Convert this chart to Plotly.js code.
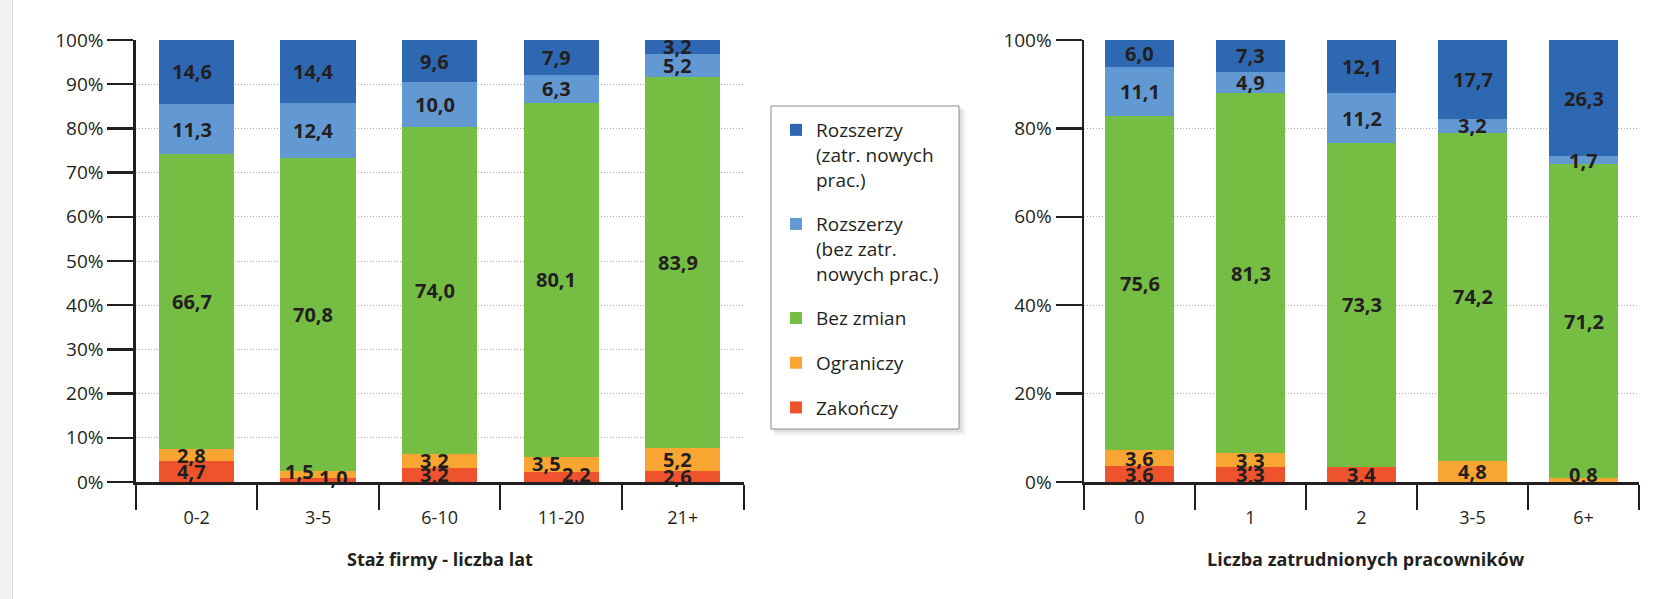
<!DOCTYPE html>
<html><head><meta charset="utf-8">
<script src="https://cdn.plot.ly/plotly-3.0.1.min.js"></script>
<style>html,body{margin:0;padding:0;background:#fff;}#chart{width:1663px;height:599px;}</style>
</head><body><div id="chart"></div>
<script>
// ---- data ----
const seriesNames = ['Zakończy', 'Ograniczy', 'Bez zmian', 'Rozszerzy<br>(bez zatr.<br>nowych prac.)', 'Rozszerzy<br>(zatr. nowych<br>prac.)'];
const seriesColors = ['#ee532d', '#f8a532', '#75bd43', '#6399d2', '#2f68b2'];

const catsLeft = ['0-2', '3-5', '6-10', '11-20', '21+'];
const leftZakonczy = [4.7, 1.0, 3.2, 2.2, 2.6];
const leftOgraniczy = [2.8, 1.5, 3.2, 3.5, 5.2];
const leftBezZmian = [66.7, 70.8, 74.0, 80.1, 83.9];
const leftRozszBez = [11.3, 12.4, 10.0, 6.3, 5.2];
const leftRozszZatr = [14.6, 14.4, 9.6, 7.9, 3.2];

const catsRight = ['0', '1', '2', '3-5', '6+'];
const rightZakonczy = [3.6, 3.3, 3.4, 0, 0];
const rightOgraniczy = [3.6, 3.3, 0, 4.8, 0.8];
const rightBezZmian = [75.6, 81.3, 73.3, 74.2, 71.2];
const rightRozszBez = [11.1, 4.9, 11.2, 3.2, 1.7];
const rightRozszZatr = [6.0, 7.3, 12.1, 17.7, 26.3];

const leftTitle = 'Staż firmy - liczba lat';
const rightTitle = 'Liczba zatrudnionych pracowników';

// ---- style ----
const W = 1663, H = 599, T = 40, B = 117;
const plotH = H - T - B;
const TXT = '#231f20';
const FONT = 'Open Sans, Liberation Sans, sans-serif';
const px = x => x / W;
const py = y => (H - B - y) / plotH;
// label nudges [xshift, yshift] keyed by chart / category / series index
const chartShift = {L: -5, R: 0};
const nudges = {
  L: {'3-5': {0: [20, 2], 1: [-14, 3]}, '11-20': {0: [20, 3], 1: [-10, 1]}},
  R: {'6+': {1: [0, 6]}}
};

const leftSeries = [leftZakonczy, leftOgraniczy, leftBezZmian, leftRozszBez, leftRozszZatr];
const rightSeries = [rightZakonczy, rightOgraniczy, rightBezZmian, rightRozszBez, rightRozszZatr];

const traces = [];
const annotations = [];
function addChart(cats, series, xa, ya, key, showLegend) {
  const cum = cats.map(() => 0);
  series.forEach((vals, si) => {
    traces.push({
      type: 'bar', x: cats, y: vals, xaxis: xa, yaxis: ya,
      name: seriesNames[si], legendgroup: 'g' + si, showlegend: showLegend,
      legendrank: 100 - si * 10,
      marker: {color: seriesColors[si], line: {width: 0}},
      hoverinfo: 'skip'
    });
    vals.forEach((v, ci) => {
      if (v > 0) {
        const n = (nudges[key][cats[ci]] || {})[si] || [0, 0];
        annotations.push({
          x: cats[ci], y: cum[ci] + v / 2, xref: xa, yref: ya,
          xanchor: 'center', yanchor: 'middle',
          text: v.toFixed(1).replace('.', ','), showarrow: false,
          xshift: n[0] + chartShift[key], yshift: n[1],
          font: {family: FONT, size: 20, color: TXT, weight: 700}
        });
      }
      cum[ci] += v;
    });
  });
}
addChart(catsLeft, leftSeries, 'x', 'y', 'L', true);
addChart(catsRight, rightSeries, 'x2', 'y2', 'R', false);

annotations.push({xref: 'paper', yref: 'paper', x: px(440), y: py(559), xanchor: 'center', yanchor: 'middle',
  text: leftTitle, showarrow: false, font: {family: FONT, size: 18, color: TXT, weight: 700}});
annotations.push({xref: 'paper', yref: 'paper', x: px(1366), y: py(559), xanchor: 'center', yanchor: 'middle',
  text: rightTitle, showarrow: false, font: {family: FONT, size: 18, color: TXT, weight: 700}});

const xBase = {
  type: 'category', showline: true, linecolor: TXT, linewidth: 2.5,
  ticks: 'outside', tickson: 'boundaries', ticklen: 25, tickwidth: 2, tickcolor: TXT,
  ticklabelstandoff: 18,
  showgrid: false, zeroline: false, range: [-0.5, 4.5], fixedrange: true,
  tickfont: {family: FONT, size: 18, color: TXT}
};
const yBase = {
  range: [0, 100], showline: true, linecolor: TXT, linewidth: 2.5,
  ticks: 'outside', ticklen: 26, tickwidth: 2.5, tickcolor: TXT, ticksuffix: '%',
  showgrid: true, gridcolor: '#aaaaaa', gridwidth: 1, griddash: '1px,2px', zeroline: false,
  tickfont: {family: FONT, size: 19, color: TXT}, fixedrange: true
};

const shapes = [
  {type: 'rect', xref: 'paper', yref: 'paper', x0: px(0), x1: px(12), y0: py(H + 5), y1: py(-5), fillcolor: '#f1f1f1', line: {width: 0}, layer: 'below'},
  {type: 'line', xref: 'paper', yref: 'paper', x0: px(12.5), x1: px(12.5), y0: py(H + 5), y1: py(-5), line: {color: '#d8d8d8', width: 1}, layer: 'below'},
];
[[7, 0.03], [5, 0.04], [3, 0.05]].forEach(([o, a]) => {
  shapes.push({type: 'rect', xref: 'paper', yref: 'paper', x0: px(771 + o / 2), x1: px(959 + o), y0: py(429 + o), y1: py(106 + o / 2),
    fillcolor: 'rgba(0,0,0,' + a + ')', line: {width: 0}, layer: 'above'});
});
shapes.push({type: 'rect', xref: 'paper', yref: 'paper', x0: px(771), x1: px(959), y0: py(429), y1: py(106),
  fillcolor: '#ffffff', line: {color: '#8a8a8a', width: 1}, layer: 'above'});

const layout = {
  width: W, height: H, autosize: false,
  margin: {l: 0, r: 0, t: T, b: B, pad: 0},
  paper_bgcolor: '#ffffff', plot_bgcolor: 'rgba(0,0,0,0)',
  barmode: 'stack', bargap: 0.38,
  font: {family: FONT, color: TXT},
  xaxis: Object.assign({}, xBase, {domain: [px(135.8), px(743.5)], anchor: 'y'}),
  yaxis: Object.assign({}, yBase, {dtick: 10, anchor: 'x'}),
  xaxis2: Object.assign({}, xBase, {domain: [px(1084), px(1639)], anchor: 'y2'}),
  yaxis2: Object.assign({}, yBase, {dtick: 20, anchor: 'x2'}),
  showlegend: true,
  legend: {
    x: px(776), y: py(111), xanchor: 'left', yanchor: 'top',
    bgcolor: 'rgba(0,0,0,0)', borderwidth: 0,
    traceorder: 'grouped', tracegroupgap: 17, valign: 'top',
    font: {family: FONT, size: 19, color: TXT}
  },
  annotations: annotations,
  shapes: shapes
};

Plotly.newPlot('chart', traces, layout, {staticPlot: true, displayModeBar: false});
</script>
</body></html>
